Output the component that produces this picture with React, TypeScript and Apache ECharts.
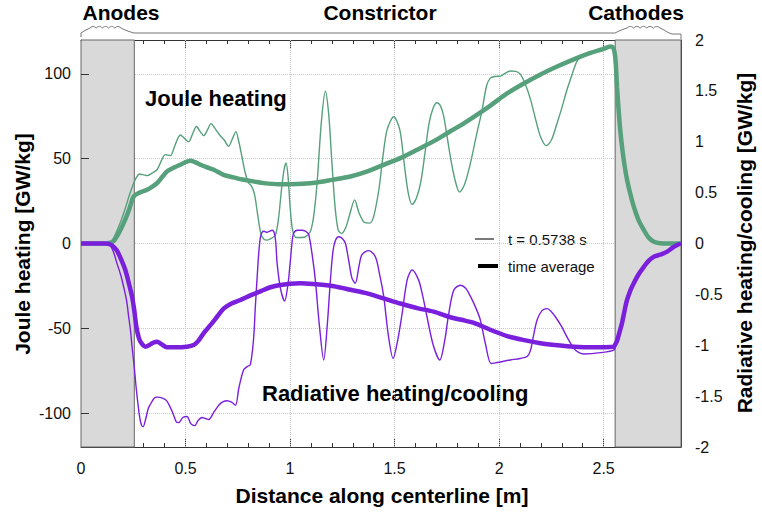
import React, { useEffect, useRef } from 'react';
import * as echarts from 'echarts';

// ---------- data ----------
const X_MAX = 2.87;
const anodeRange = [0, 0.255];
const cathodeRange = [2.555, 2.87];

// Joule heating, instantaneous (t = 0.5738 s) [GW/kg]
const jInstX = [0, 0.1, 0.13, 0.15, 0.17, 0.19, 0.21, 0.23, 0.25, 0.265, 0.28, 0.3, 0.316, 0.34, 0.364, 0.385, 0.403, 0.427, 0.45, 0.475, 0.495, 0.515, 0.535, 0.552, 0.57, 0.587, 0.605, 0.622, 0.64, 0.663, 0.685, 0.706, 0.725, 0.741, 0.755, 0.77, 0.785, 0.8, 0.815, 0.83, 0.845, 0.86, 0.875, 0.89, 0.91, 0.93, 0.945, 0.96, 0.972, 0.981, 0.99, 1.0, 1.012, 1.03, 1.06, 1.085, 1.1, 1.115, 1.13, 1.15, 1.169, 1.185, 1.2, 1.215, 1.23, 1.245, 1.265, 1.285, 1.309, 1.33, 1.355, 1.38, 1.4, 1.425, 1.445, 1.464, 1.496, 1.525, 1.545, 1.565, 1.584, 1.605, 1.625, 1.645, 1.665, 1.685, 1.703, 1.72, 1.735, 1.75, 1.767, 1.79, 1.811, 1.835, 1.863, 1.89, 1.919, 1.94, 1.958, 1.98, 2.006, 2.03, 2.054, 2.08, 2.102, 2.125, 2.15, 2.175, 2.198, 2.226, 2.25, 2.275, 2.3, 2.325, 2.35, 2.373, 2.405, 2.45, 2.5, 2.533, 2.545, 2.552, 2.558, 2.564, 2.572, 2.58, 2.588, 2.6, 2.612, 2.628, 2.644, 2.668, 2.692, 2.715, 2.74, 2.77, 2.87];
const jInstY = [0, 0, 0.3, 2, 7, 13, 20, 28, 35, 39, 41, 40.5, 40, 41.5, 43.5, 49, 52.4, 51.8, 58, 64, 62, 60, 65, 69, 66, 63.6, 67, 70.7, 68, 64, 61, 57.3, 62, 66, 60, 51, 42, 36, 34, 29, 17, 6, 2.5, 2, 3, 5, 15, 33, 44, 47.5, 40, 22, 8, 3.5, 3.5, 5, 8, 18, 37, 72, 89.8, 76, 48, 22, 8, 6, 9, 17, 25.7, 18, 12.5, 12, 16, 32, 52, 67, 74.7, 67, 48, 30, 23, 27, 36, 53, 71, 80, 83, 81, 75, 64, 51, 37, 30.3, 35, 47.5, 63, 79, 93, 97.5, 98.5, 98.7, 100.5, 101.7, 101.5, 99.7, 94, 85, 73, 63, 57.7, 61, 70, 80, 90.8, 100, 107.6, 111.5, 112.8, 114.8, 116.2, 115.5, 113, 106, 92, 78, 66, 57, 46, 37.6, 29, 21.8, 13.5, 8, 3.5, 1, 0.2, 0];

// Joule heating, time average [GW/kg]
const jAvgX = [0, 0.12, 0.14, 0.156, 0.18, 0.204, 0.23, 0.252, 0.28, 0.316, 0.34, 0.364, 0.39, 0.411, 0.44, 0.475, 0.5, 0.523, 0.545, 0.571, 0.6, 0.635, 0.682, 0.73, 0.778, 0.83, 0.874, 0.946, 1.0, 1.06, 1.129, 1.2, 1.289, 1.37, 1.448, 1.53, 1.608, 1.69, 1.767, 1.82, 1.879, 1.96, 2.038, 2.12, 2.198, 2.28, 2.357, 2.44, 2.5, 2.533, 2.545, 2.552, 2.558, 2.564, 2.572, 2.58, 2.588, 2.6, 2.612, 2.628, 2.644, 2.668, 2.692, 2.715, 2.74, 2.77, 2.87];
const jAvgY = [0, 0, 0.5, 1.5, 6, 12, 20, 27.7, 30, 31.7, 33.5, 35.6, 39.5, 42.5, 44.5, 46.4, 48, 48.8, 48, 46.4, 45, 43.5, 40.5, 39, 37.6, 36.5, 35.6, 35, 35, 35.2, 36, 37.5, 39.5, 42.5, 46.4, 50.5, 55.3, 60.5, 66.2, 70, 74.7, 81.5, 88.5, 94.5, 99.7, 104.5, 108.6, 112.5, 114.8, 116.2, 115.5, 113, 106, 92, 78, 66, 57, 46, 37.6, 29, 21.8, 13.5, 8, 3.5, 1, 0.2, 0];

// Radiative heating/cooling, instantaneous [GW/kg]
const rInstX = [0, 0.12, 0.14, 0.155, 0.172, 0.19, 0.204, 0.218, 0.228, 0.237, 0.244, 0.255, 0.265, 0.28, 0.29, 0.297, 0.31, 0.322, 0.332, 0.35, 0.364, 0.39, 0.411, 0.44, 0.455, 0.467, 0.487, 0.507, 0.525, 0.544, 0.56, 0.579, 0.595, 0.611, 0.635, 0.659, 0.68, 0.699, 0.72, 0.739, 0.755, 0.778, 0.795, 0.81, 0.825, 0.834, 0.842, 0.85, 0.858, 0.866, 0.875, 0.89, 0.9, 0.915, 0.925, 0.932, 0.938, 0.955, 0.974, 0.99, 1.0, 1.01, 1.017, 1.035, 1.055, 1.075, 1.089, 1.105, 1.121, 1.14, 1.161, 1.178, 1.193, 1.205, 1.217, 1.233, 1.25, 1.265, 1.28, 1.296, 1.312, 1.33, 1.344, 1.376, 1.408, 1.428, 1.448, 1.47, 1.493, 1.515, 1.536, 1.56, 1.584, 1.615, 1.635, 1.655, 1.685, 1.716, 1.74, 1.759, 1.783, 1.815, 1.84, 1.863, 1.89, 1.91, 1.934, 1.962, 1.99, 2.054, 2.1, 2.134, 2.15, 2.165, 2.182, 2.205, 2.23, 2.25, 2.269, 2.3, 2.325, 2.357, 2.38, 2.405, 2.485, 2.55, 2.558, 2.565, 2.576, 2.588, 2.6, 2.612, 2.628, 2.644, 2.668, 2.692, 2.715, 2.74, 2.77, 2.804, 2.83, 2.852, 2.87];
const rInstY = [0, 0, -0.02, -0.08, -0.195, -0.31, -0.425, -0.56, -0.72, -0.86, -1.01, -1.22, -1.44, -1.7, -1.79, -1.8, -1.72, -1.62, -1.58, -1.52, -1.51, -1.52, -1.55, -1.67, -1.75, -1.76, -1.71, -1.7, -1.77, -1.79, -1.74, -1.71, -1.72, -1.73, -1.66, -1.59, -1.555, -1.545, -1.56, -1.59, -1.42, -1.24, -1.21, -1.19, -0.95, -0.62, -0.35, -0.1, 0.06, 0.11, 0.12, 0.11, 0.12, 0.13, 0.1, 0.0, -0.195, -0.45, -0.565, -0.4, -0.2, 0.02, 0.1, 0.13, 0.13, 0.12, 0.09, -0.1, -0.36, -0.8, -1.145, -0.8, -0.36, -0.08, 0.03, 0.067, 0.05, 0.0, -0.16, -0.34, -0.39, -0.22, -0.11, -0.07, -0.13, -0.3, -0.52, -0.9, -1.13, -0.95, -0.69, -0.36, -0.26, -0.36, -0.52, -0.72, -1.0, -1.145, -0.95, -0.69, -0.46, -0.41, -0.44, -0.52, -0.64, -0.75, -0.98, -1.18, -1.17, -1.145, -1.13, -1.11, -1.05, -0.9, -0.75, -0.66, -0.64, -0.67, -0.72, -0.82, -0.92, -1.03, -1.07, -1.086, -1.073, -1.045, -0.99, -0.95, -0.87, -0.78, -0.66, -0.555, -0.46, -0.39, -0.3, -0.23, -0.17, -0.13, -0.11, -0.08, -0.04, -0.015, 0];

// Radiative heating/cooling, time average [GW/kg]
const rAvgX = [0, 0.12, 0.14, 0.155, 0.172, 0.195, 0.212, 0.23, 0.244, 0.255, 0.265, 0.277, 0.289, 0.308, 0.325, 0.345, 0.364, 0.385, 0.411, 0.45, 0.507, 0.539, 0.56, 0.587, 0.62, 0.651, 0.682, 0.72, 0.762, 0.81, 0.858, 0.906, 0.946, 1.0, 1.049, 1.12, 1.209, 1.29, 1.368, 1.448, 1.528, 1.608, 1.687, 1.767, 1.82, 1.879, 1.96, 2.038, 2.12, 2.198, 2.28, 2.357, 2.45, 2.548, 2.556, 2.565, 2.576, 2.588, 2.6, 2.612, 2.628, 2.644, 2.668, 2.692, 2.715, 2.74, 2.77, 2.804, 2.83, 2.852, 2.87];
const rAvgY = [0, 0, -0.01, -0.03, -0.07, -0.17, -0.26, -0.4, -0.52, -0.66, -0.82, -0.93, -0.98, -1.014, -1.0, -0.975, -0.965, -0.99, -1.02, -1.02, -1.014, -0.998, -0.96, -0.88, -0.8, -0.72, -0.64, -0.59, -0.555, -0.51, -0.47, -0.43, -0.41, -0.395, -0.39, -0.4, -0.42, -0.455, -0.49, -0.54, -0.59, -0.635, -0.67, -0.725, -0.75, -0.78, -0.85, -0.91, -0.95, -0.98, -1.0, -1.014, -1.02, -1.014, -0.99, -0.95, -0.87, -0.78, -0.66, -0.555, -0.46, -0.39, -0.3, -0.23, -0.17, -0.13, -0.11, -0.08, -0.04, -0.015, 0];

const xGridValues = [0.5, 1, 1.5, 2, 2.5];
const yGridValues = [-100, -50, 0, 50, 100];

const regionLabels = ['Anodes', 'Constrictor', 'Cathodes'];

// ---------- styles ----------
const FONT = '"Liberation Sans", Arial, Helvetica, sans-serif';
const GREEN = '#56a07c';
const PURPLE = '#7a1fdc';
const AXIS = '#333';
const LABEL_SIZE = 16;

const zip = (xs: number[], ys: number[]) => xs.map((x, i) => [x, ys[i]]);
const isMult = (v: number, s: number) => Math.abs(v / s - Math.round(v / s)) < 1e-6;
const fmtHalf = (v: number) => String(Math.round(v * 2) / 2);

function wave(x0: number, x1: number, n: number, yBase: number, amp: number) {
  const pts: number[][] = [];
  const w = (x1 - x0) / n;
  for (let i = 0; i < n; i++) {
    for (let k = 0; k <= 6; k++) {
      const t = k / 6;
      pts.push([x0 + w * (i + t), yBase - amp * Math.sin(Math.PI * t)]);
    }
  }
  return pts;
}

function buildOption() {
  const axisLine = { show: true, onZero: false, lineStyle: { color: AXIS, width: 1 } };
  const minorX = (pos: 'bottom' | 'top', labels: boolean) => ({
    type: 'value', min: 0, max: X_MAX, interval: 0.1, position: pos,
    axisLine, splitLine: { show: false },
    axisTick: { show: true, inside: true, length: 4, lineStyle: { color: AXIS } },
    axisLabel: {
      show: labels, margin: 13, fontSize: LABEL_SIZE, color: '#111', fontFamily: FONT,
      formatter: (v: number) => (isMult(v, 0.5) ? fmtHalf(v) : ''),
      showMaxLabel: false,
    },
  });
  const majorX = (pos: 'bottom' | 'top') => ({
    type: 'value', min: 0, max: X_MAX, interval: 0.5, position: pos,
    axisLine: { show: false, onZero: false }, splitLine: { show: false }, axisLabel: { show: false },
    axisTick: { show: true, inside: true, length: 8, lineStyle: { color: AXIS } },
  });

  const bracket = [
    [81, 37], [81, 33], [84, 31], [88, 29],
    ...wave(90, 121, 5, 28, 1.6),
    [124, 29.5], [129, 31.5], [134, 33],
    [615, 33], [619, 31], [624, 29],
    ...wave(627, 660, 5, 28, 1.6),
    [664, 30], [668, 32.5], [672, 34], [681, 34], [681, 39],
  ];

  // major ticks of the left axis, 8px long, drawn from the axis scale
  const leftMajorLen = 8 / ((762 - 81 - 81) / X_MAX);
  const leftMajorTicks = yGridValues.map((v) => [
    { coord: [0, v] },
    { coord: [leftMajorLen, v] },
  ]);

  return {
    animation: false,
    grid: { left: 81, right: 81, top: 40, bottom: 69, containLabel: false },
    xAxis: [minorX('bottom', true), majorX('bottom'), minorX('top', false), majorX('top')],
    yAxis: [
      {
        type: 'value', min: -120, max: 120, interval: 10, position: 'left',
        axisLine, splitLine: { show: false },
        axisTick: { show: true, inside: true, length: 5, lineStyle: { color: AXIS } },
        axisLabel: {
          margin: 10, fontSize: LABEL_SIZE, color: '#111', fontFamily: FONT,
          formatter: (v: number) => (isMult(v, 50) ? String(Math.round(v)) : ''),
        },
      },
      {
        type: 'value', min: -2, max: 2, interval: 0.1, position: 'right',
        axisLine, splitLine: { show: false },
        axisTick: { show: true, inside: true, length: 4, lineStyle: { color: AXIS } },
        axisLabel: {
          margin: 14, fontSize: LABEL_SIZE, color: '#111', fontFamily: FONT,
          formatter: (v: number) => (isMult(v, 0.5) ? fmtHalf(v) : ''),
        },
      },
      {
        type: 'value', min: -2, max: 2, interval: 0.5, position: 'right',
        axisLine: { show: false, onZero: false }, splitLine: { show: false }, axisLabel: { show: false },
        axisTick: { show: true, inside: true, length: 8, lineStyle: { color: AXIS } },
      },
    ],
    series: [
      {
        type: 'line', xAxisIndex: 0, yAxisIndex: 0, data: [[0, 0]], silent: true,
        showSymbol: false, lineStyle: { width: 0, opacity: 0 }, z: 1,
        markLine: {
          silent: true, symbol: ['none', 'none'], z: 1, label: { show: false },
          lineStyle: { type: 'dotted', color: '#c8c8c8', width: 1 },
          data: [
            ...xGridValues.map((v) => ({ xAxis: v })),
            ...yGridValues.map((v) => ({ yAxis: v })),
          ],
        },
        markArea: {
          silent: true, z: 2,
          itemStyle: { color: '#d9d9d9', borderColor: '#666', borderWidth: 1 },
          data: [
            [{ xAxis: anodeRange[0] }, { xAxis: anodeRange[1] }],
            [{ xAxis: cathodeRange[0] }, { xAxis: cathodeRange[1] }],
          ],
        },
      },
      {
        type: 'line', xAxisIndex: 0, yAxisIndex: 0, data: [[0, 0]], silent: true,
        showSymbol: false, lineStyle: { width: 0, opacity: 0 }, z: 3,
        markLine: {
          silent: true, symbol: ['none', 'none'], z: 3, label: { show: false },
          lineStyle: { type: 'solid', color: AXIS, width: 1 },
          data: leftMajorTicks,
        },
      },
      {
        name: 'Joule t', type: 'line', xAxisIndex: 0, yAxisIndex: 0, z: 3,
        data: zip(jInstX, jInstY), showSymbol: false, smooth: 0.3,
        lineStyle: { color: GREEN, width: 1.4 },
      },
      {
        name: 'Joule avg', type: 'line', xAxisIndex: 0, yAxisIndex: 0, z: 4,
        data: zip(jAvgX, jAvgY), showSymbol: false, smooth: 0.3,
        lineStyle: { color: GREEN, width: 4.5 },
      },
      {
        name: 'Rad t', type: 'line', xAxisIndex: 0, yAxisIndex: 1, z: 5,
        data: zip(rInstX, rInstY), showSymbol: false, smooth: 0.3,
        lineStyle: { color: PURPLE, width: 1.4 },
      },
      {
        name: 'Rad avg', type: 'line', xAxisIndex: 0, yAxisIndex: 1, z: 6,
        data: zip(rAvgX, rAvgY), showSymbol: false, smooth: 0.3,
        lineStyle: { color: PURPLE, width: 4.5 },
      },
    ],
    graphic: [
      { type: 'polyline', shape: { points: bracket }, style: { stroke: '#777', fill: 'none', lineWidth: 1 }, silent: true },
      { type: 'text', x: 121, y: 12, style: { text: regionLabels[0], font: `bold 21px ${FONT}`, fill: '#000', textAlign: 'center', textVerticalAlign: 'middle' } },
      { type: 'text', x: 380, y: 12, style: { text: regionLabels[1], font: `bold 21px ${FONT}`, fill: '#000', textAlign: 'center', textVerticalAlign: 'middle' } },
      { type: 'text', x: 636, y: 12, style: { text: regionLabels[2], font: `bold 21px ${FONT}`, fill: '#000', textAlign: 'center', textVerticalAlign: 'middle' } },
      { type: 'text', x: 145, y: 98, style: { text: 'Joule heating', font: `bold 22px ${FONT}`, fill: '#000', textAlign: 'left', textVerticalAlign: 'middle' } },
      { type: 'text', x: 262, y: 393, style: { text: 'Radiative heating/cooling', font: `bold 22px ${FONT}`, fill: '#000', textAlign: 'left', textVerticalAlign: 'middle' } },
      { type: 'text', x: 382, y: 495, style: { text: 'Distance along centerline [m]', font: `bold 21px ${FONT}`, fill: '#000', textAlign: 'center', textVerticalAlign: 'middle' } },
      { type: 'text', x: 22, y: 244, rotation: Math.PI / 2, style: { text: 'Joule heating [GW/kg]', font: `bold 21px ${FONT}`, fill: '#000', textAlign: 'center', textVerticalAlign: 'middle' } },
      { type: 'text', x: 744, y: 243, rotation: Math.PI / 2, style: { text: 'Radiative heating/cooling [GW/kg]', font: `bold 21px ${FONT}`, fill: '#000', textAlign: 'center', textVerticalAlign: 'middle' } },
      { type: 'line', shape: { x1: 475, y1: 239, x2: 494, y2: 239 }, style: { stroke: '#222', lineWidth: 1.2 } },
      { type: 'text', x: 508, y: 239, style: { text: 't = 0.5738 s', font: `15px ${FONT}`, fill: '#111', textAlign: 'left', textVerticalAlign: 'middle' } },
      { type: 'line', shape: { x1: 478, y1: 266, x2: 498, y2: 266 }, style: { stroke: '#000', lineWidth: 4 } },
      { type: 'text', x: 508, y: 266, style: { text: 'time average', font: `15px ${FONT}`, fill: '#111', textAlign: 'left', textVerticalAlign: 'middle' } },
    ],
  };
}

export default function App() {
  const ref = useRef<HTMLDivElement>(null);
  useEffect(() => {
    document.body.style.margin = '0';
    const chart = echarts.init(ref.current!, null, { renderer: 'svg' });
    chart.setOption(buildOption() as any);
    return () => chart.dispose();
  }, []);
  return <div ref={ref} style={{ width: 762, height: 516 }} />;
}
